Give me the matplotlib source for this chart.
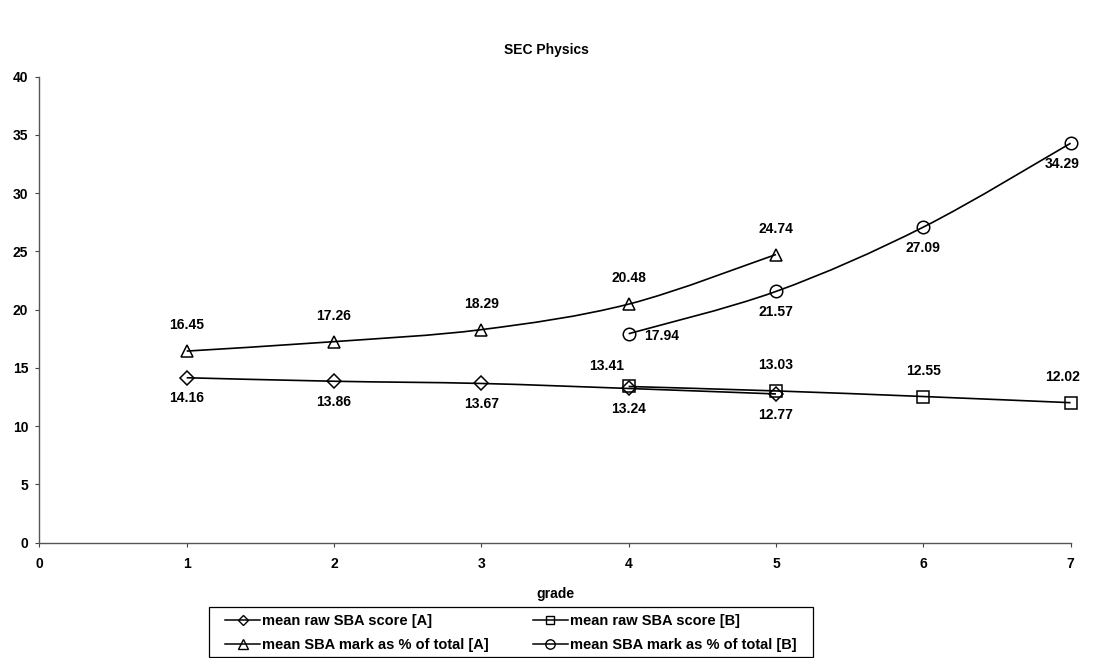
import matplotlib.pyplot as plt
from matplotlib.path import Path
from matplotlib.patches import PathPatch, Rectangle

plt.rcParams['font.family'] = ['Liberation Sans', 'DejaVu Sans']
plt.rcParams['font.weight'] = 'bold'

# data
grade_a = [1, 2, 3, 4, 5]
grade_b = [4, 5, 6, 7]
raw_a = [14.16, 13.86, 13.67, 13.24, 12.77]
raw_b = [13.41, 13.03, 12.55, 12.02]
pct_a = [16.45, 17.26, 18.29, 20.48, 24.74]
pct_b = [17.94, 21.57, 27.09, 34.29]

names = ["mean raw SBA score [A]", "mean raw SBA score [B]",
         "mean SBA mark as % of total [A]", "mean SBA mark as % of total [B]"]


def smooth_path(xs, ys):
    # excel-like smoothed line: cubic bezier through the points
    pts = list(zip(xs, ys))
    verts = [pts[0]]
    codes = [Path.MOVETO]
    n = len(pts)
    for i in range(n - 1):
        p0 = pts[i - 1] if i > 0 else pts[i]
        p1 = pts[i]
        p2 = pts[i + 1]
        p3 = pts[i + 2] if i + 2 < n else pts[i + 1]
        c1 = (p1[0] + (p2[0] - p0[0]) / 6, p1[1] + (p2[1] - p0[1]) / 6)
        c2 = (p2[0] - (p3[0] - p1[0]) / 6, p2[1] - (p3[1] - p1[1]) / 6)
        verts += [c1, c2, p2]
        codes += [Path.CURVE4] * 3
    return Path(verts, codes)


fig = plt.figure(figsize=(10.93, 6.58), dpi=100)
ax = fig.add_axes([0.036, 0.1752, 0.9435, 0.7082])

up, down = (0, 18.5), (0, -14.8)
series = [
    (grade_a, raw_a, 'D', 7, [down] * 5),
    (grade_b, raw_b, 's', 8.5, [(-16, 14.5), up, up, (-6, 18.5)]),
    (grade_a, pct_a, '^', 9, [up] * 5),
    (grade_b, pct_b, 'o', 9, [(24, -2), down, down, (-6, -14.8)]),
]
handles = {}
for (xs, ys, mk, ms, offs), name in zip(series, names):
    ax.add_patch(PathPatch(smooth_path(xs, ys), facecolor='none',
                           edgecolor='black', lw=1.2, clip_on=False))
    ax.plot(xs, ys, linestyle='none', marker=mk, markersize=ms,
            markerfacecolor='none', markeredgecolor='black', mew=1.1,
            clip_on=False)
    h, = ax.plot([], [], color='black', lw=1.1, marker=mk, markersize=ms * 0.75,
                 markerfacecolor='none', markeredgecolor='black', label=name)
    handles[name] = h
    for x, y, o in zip(xs, ys, offs):
        ax.annotate(f"{y:.2f}", (x, y), xytext=o, textcoords='offset points',
                    ha='center', va='center', fontsize=10, fontweight='bold')

ax.set_xlim(0, 7)
ax.set_ylim(0, 40)
ax.set_xticks(range(0, 8))
ax.set_yticks(range(0, 41, 5))
ax.tick_params(axis='x', labelsize=10, length=3, width=0.8, pad=7, color='#444444')
ax.tick_params(axis='y', labelsize=10, length=3, width=0.8, pad=5, color='#444444')
for s in ['top', 'right']:
    ax.spines[s].set_visible(False)
for s in ['left', 'bottom']:
    ax.spines[s].set_color('#555555')
    ax.spines[s].set_linewidth(1)
ax.set_xlabel("grade", fontsize=10, fontweight='bold', labelpad=12)
fig.suptitle("SEC Physics", fontsize=10, fontweight='bold', y=0.935)

# column-wise fill: first column is the [A] series
order = [names[0], names[2], names[1], names[3]]
leg = fig.legend(handles=[handles[k] for k in order],
                 ncol=2, loc='center', bbox_to_anchor=(0.4675, 0.038),
                 frameon=False, fontsize=10.5, handlelength=2.4,
                 handletextpad=0.15, columnspacing=3.0, borderpad=0.2,
                 labelspacing=0.65, borderaxespad=0)
# legend border drawn separately (wider side padding than the library gives)
fig.patches.append(Rectangle((0.1912, 0.0015), 0.5526, 0.076,
                             transform=fig.transFigure, fill=False,
                             edgecolor='black', lw=0.9))

fig.savefig("out.png", dpi=100)
